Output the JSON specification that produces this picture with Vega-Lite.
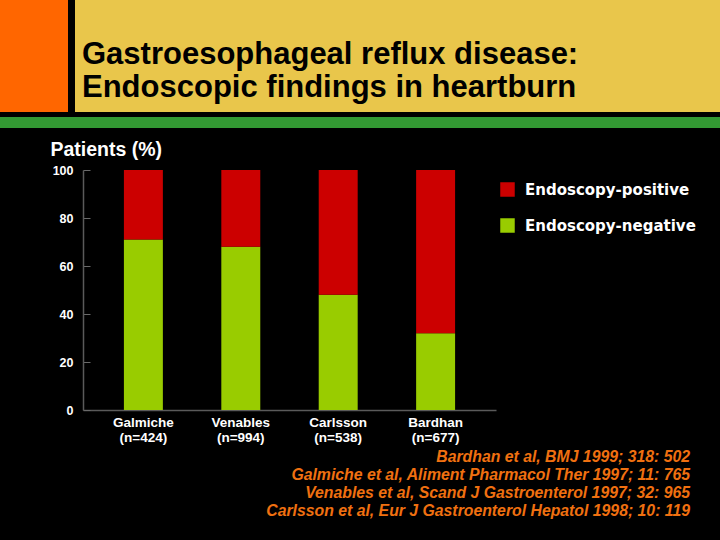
{
  "$schema": "https://vega.github.io/schema/vega-lite/v6.json",
  "background": "#000000",
  "padding": 0,
  "spacing": 11,
  "config": {"view": {"stroke": null}, "font": "Liberation Sans"},
  "vconcat": [
    {
      "spacing": 5,
      "vconcat": [
        {
          "spacing": 7,
          "hconcat": [
            {"width": 68, "height": 112, "view": {"fill": "#FF6600", "stroke": null}, "mark": {"type": "text"}, "encoding": {}},
            {
              "width": 645, "height": 112,
              "view": {"fill": "#E9C64B", "stroke": null},
              "title": {
                "text": ["Gastroesophageal reflux disease:", "Endoscopic findings in heartburn"],
                "orient": "top", "anchor": "start", "frame": "group", "offset": 0,
                "baseline": "top", "dx": 7, "dy": 104,
                "font": "Liberation Sans", "fontSize": 31, "fontWeight": "bold",
                "color": "#000000", "lineHeight": 33.5
              },
              "mark": {"type": "text"}, "encoding": {}
            }
          ]
        },
        {"width": 720, "height": 11, "view": {"fill": "#339933", "stroke": null}, "mark": {"type": "text"}, "encoding": {}}
      ]
    },
    {
      "spacing": 0,
      "hconcat": [
        {"width": 50, "height": 420, "mark": {"type": "text"}, "encoding": {}},
        {
          "width": 413, "height": 240,
          "title": {
            "text": [
              "Bardhan et al, BMJ 1999; 318: 502",
              "Galmiche et al, Aliment Pharmacol Ther 1997; 11: 765",
              "Venables et al, Scand J Gastroenterol 1997; 32: 965",
              "Carlsson et al, Eur J Gastroenterol Hepatol 1998; 10: 119"
            ],
            "orient": "bottom", "anchor": "end", "frame": "group", "offset": 6,
            "baseline": "top", "dx": 194,
            "font": "Liberation Sans", "fontSize": 15.8, "fontWeight": "bold", "fontStyle": "italic",
            "color": "#F07010", "lineHeight": 18.1
          },
          "data": {
            "values": [
              {"label": "Galmiche (n=424)", "finding": "Endoscopy-negative", "pct": 71},
              {"label": "Galmiche (n=424)", "finding": "Endoscopy-positive", "pct": 29},
              {"label": "Venables (n=994)", "finding": "Endoscopy-negative", "pct": 68},
              {"label": "Venables (n=994)", "finding": "Endoscopy-positive", "pct": 32},
              {"label": "Carlsson (n=538)", "finding": "Endoscopy-negative", "pct": 48},
              {"label": "Carlsson (n=538)", "finding": "Endoscopy-positive", "pct": 52},
              {"label": "Bardhan (n=677)", "finding": "Endoscopy-negative", "pct": 32},
              {"label": "Bardhan (n=677)", "finding": "Endoscopy-positive", "pct": 68}
            ]
          },
          "mark": {"type": "bar"},
          "encoding": {
            "x": {
              "field": "label", "type": "nominal", "sort": null,
              "scale": {"paddingInner": 0.6, "paddingOuter": 0.42},
              "axis": {
                "title": null, "labelAngle": 0, "labelExpr": "split(datum.label, ' ')",
                "labelColor": "#FFFFFF", "labelFont": "Liberation Sans", "labelFontSize": 13.5, "labelFontWeight": "bold",
                "labelLineHeight": 15.5, "labelPadding": 5, "ticks": false,
                "domainColor": "#5A5A5A", "domainWidth": 1.5
              }
            },
            "y": {
              "field": "pct", "type": "quantitative", "stack": "zero",
              "scale": {"domain": [0, 100], "nice": false},
              "axis": {
                "values": [0, 20, 40, 60, 80, 100],
                "title": "Patients (%)", "titleAngle": 0, "titleAlign": "left", "titleBaseline": "alphabetic",
                "titleX": -33, "titleY": -15, "titleColor": "#FFFFFF", "titleFont": "Liberation Sans",
                "titleFontSize": 19.5, "titleFontWeight": "bold",
                "labelColor": "#FFFFFF", "labelFont": "Liberation Sans", "labelFontSize": 12.5, "labelFontWeight": "bold",
                "labelPadding": 17, "tickSize": -7, "tickColor": "#6A6A6A",
                "domainColor": "#5A5A5A", "domainWidth": 1.5, "grid": false
              }
            },
            "color": {
              "field": "finding", "type": "nominal",
              "scale": {"domain": ["Endoscopy-positive", "Endoscopy-negative"], "range": ["#CC0000", "#99CC00"]},
              "legend": {
                "title": null, "orient": "none", "legendX": 500, "legendY": 182, "padding": 0,
                "symbolType": "square", "symbolSize": 210, "symbolStrokeWidth": 0, "symbolOpacity": 1,
                "labelColor": "#FFFFFF", "labelFont": "DejaVu Sans", "labelFontSize": 15, "labelFontWeight": "bold",
                "labelOffset": 10, "rowPadding": 20, "labelLimit": 0
              }
            },
            "order": {"field": "finding", "sort": "ascending"}
          }
        }
      ]
    }
  ]
}
